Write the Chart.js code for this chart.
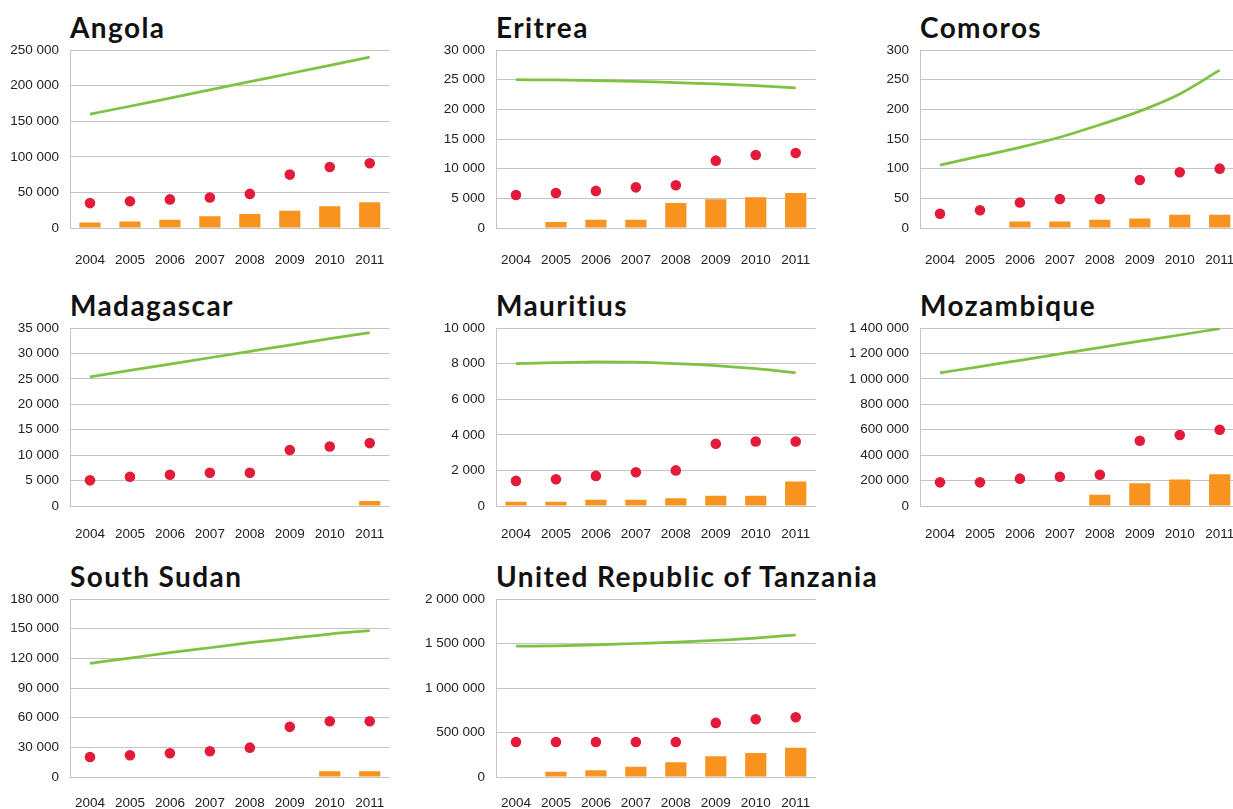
<!DOCTYPE html>
<html lang="en">
  <head>
    <meta charset="UTF-8">
    <script src="https://cdn.jsdelivr.net/npm/chart.js"></script>
    <title>Country panels 2004-2011</title>
    <style>
      html, body{margin: 0; padding: 0; background: #fff; overflow: hidden; width: 1233px; height: 809px;}
      .panel{position: absolute;}
      .ttl{position: absolute; font-family: Lato, "Open Sans", sans-serif; font-weight: 700; font-size: 28px; line-height: 28px; letter-spacing: 1.4px; color: #111; white-space: nowrap;}
    </style>
    <script>
      // years on the x axis
      const years = ['2004', '2005', '2006', '2007', '2008', '2009', '2010', '2011'];

      // green line, red dots, orange bars for each country
      const angolaLine = [160000, 171000, 182500, 194000, 205500, 217000, 228500, 240000];
      const angolaDots = [35000, 37600, 40200, 42800, 47900, 75000, 85600, 90900];
      const angolaBars = [7700, 9000, 11500, 16500, 19500, 24200, 30500, 36000];

      const eritreaLine = [25000, 24950, 24850, 24700, 24500, 24300, 24000, 23600];
      const eritreaDots = [5570, 5900, 6250, 6850, 7200, 11350, 12300, 12650];
      const eritreaBars = [null, 1000, 1370, 1370, 4230, 4830, 5170, 5900];

      const comorosLine = [106, 121, 136, 153, 174, 197, 226, 266];
      const comorosDots = [24, 30, 43, 49, 49, 81, 94, 100];
      const comorosBars = [null, null, 11, 11, 14, 16, 22.5, 22.5];

      const madagascarLine = [25400, 26650, 27900, 29150, 30400, 31650, 32900, 34100];
      const madagascarDots = [5040, 5760, 6150, 6540, 6540, 11000, 11700, 12370];
      const madagascarBars = [null, null, null, null, null, null, null, 1000];

      const mauritiusLine = [8000, 8050, 8100, 8080, 8000, 7890, 7720, 7490];
      const mauritiusDots = [1410, 1500, 1690, 1900, 2000, 3500, 3620, 3620];
      const mauritiusBars = [240, 240, 345, 345, 430, 570, 570, 1380];

      const mozambiqueLine = [1047000, 1097000, 1146000, 1196000, 1246000, 1296000, 1345000, 1395000];
      const mozambiqueDots = [186000, 186000, 215000, 230000, 246000, 513000, 558000, 600000];
      const mozambiqueBars = [null, null, null, null, 89000, 178000, 209000, 249000];

      const southSudanLine = [114900, 120300, 125700, 130700, 135800, 140200, 144600, 148000];
      const southSudanDots = [20300, 22000, 24000, 26000, 29700, 50700, 56400, 56400];
      const southSudanBars = [null, null, null, null, null, null, 5700, 5700];

      const tanzaniaLine = [1470000, 1474000, 1485000, 1500000, 1515000, 1534000, 1560000, 1598000];
      const tanzaniaDots = [394000, 394000, 394000, 394000, 394000, 608000, 649000, 671000];
      const tanzaniaBars = [null, 60000, 75000, 116000, 165000, 232000, 270000, 330000];

      // y axis ranges
      const yMax  = [250000, 30000, 300, 35000, 10000, 1400000, 180000, 2000000];
      const yStep = [50000, 5000, 50, 5000, 2000, 200000, 30000, 500000];

      const names = ['Angola', 'Eritrea', 'Comoros', 'Madagascar', 'Mauritius', 'Mozambique', 'South Sudan', 'United Republic of Tanzania'];
      const lines = [angolaLine, eritreaLine, comorosLine, madagascarLine, mauritiusLine, mozambiqueLine, southSudanLine, tanzaniaLine];
      const dots  = [angolaDots, eritreaDots, comorosDots, madagascarDots, mauritiusDots, mozambiqueDots, southSudanDots, tanzaniaDots];
      const bars  = [angolaBars, eritreaBars, comorosBars, madagascarBars, mauritiusBars, mozambiqueBars, southSudanBars, tanzaniaBars];

      const GREEN = '#7dc243';
      const RED = '#e31b3b';
      const ORANGE = '#f7931e';
      const GRID = '#c4c4c4';
      const TICK_FONT = "'Liberation Sans', Arial, sans-serif";

      // plot area corners
      const colX = [70, 496, 920];
      const rowY = [50, 328, 599];
      const rowLabelGap = [24, 20, 18]; // x labels sit a bit closer on lower rows
      const PLOT_W = 321, PLOT_H = 178, AXIS_W = 80, PAD_TOP = 12, AXIS_H = 40;

      function fmt(v){
        return String(v).replace(/\B(?=(\d{3})+(?!\d))/g, ' ');
      }

      window.addEventListener('load', function(){
        names.forEach(function(name, i){
          const row = Math.floor(i / 3);
          const px = colX[i % 3], py = rowY[row];

          // title
          const t = document.createElement('div');
          t.className = 'ttl';
          t.textContent = name;
          t.style.left = px + 'px';
          t.style.top = (py - 37) + 'px';
          document.body.appendChild(t);

          // canvas
          const c = document.createElement('canvas');
          c.className = 'panel';
          c.width = AXIS_W + PLOT_W + 4;
          c.height = PAD_TOP + PLOT_H + AXIS_H;
          c.style.left = (px - AXIS_W) + 'px';
          c.style.top = (py - PAD_TOP) + 'px';
          document.body.appendChild(c);

          new Chart(c, {
            type: 'bar',
            data: {
              labels: years,
              datasets: [
                { type: 'line', label: 'dots', data: dots[i], showLine: false,
                  pointRadius: 5.3, pointBackgroundColor: RED, pointBorderWidth: 0 },
                { type: 'line', label: 'line', data: lines[i], borderColor: GREEN, borderWidth: 2.75,
                  pointRadius: 0, cubicInterpolationMode: 'monotone', fill: false },
                { type: 'bar', label: 'bars', data: bars[i], backgroundColor: ORANGE,
                  barPercentage: 0.53, categoryPercentage: 1 }
              ]
            },
            options: {
              responsive: false,
              animation: false,
              events: [],
              layout: { padding: { top: PAD_TOP, right: 4, left: 0, bottom: 0 } },
              plugins: { legend: { display: false }, tooltip: { enabled: false } },
              scales: {
                x: {
                  afterFit: function(s){ s.height = AXIS_H; s.paddingLeft = 0; s.paddingRight = 0; },
                  grid: { display: false, drawTicks: false },
                  border: { display: true, color: GRID, width: 1 },
                  ticks: { padding: rowLabelGap[row], color: '#222', maxRotation: 0, autoSkip: false,
                           font: { family: TICK_FONT, size: 13.5 } }
                },
                y: {
                  min: 0, max: yMax[i],
                  afterFit: function(s){ s.width = AXIS_W; s.paddingTop = 0; s.paddingBottom = 0; },
                  grid: { color: GRID, drawTicks: false },
                  border: { display: true, color: GRID, width: 1 },
                  ticks: { stepSize: yStep[i], padding: 11, color: '#222',
                           font: { family: TICK_FONT, size: 13.5 },
                           callback: function(v){ return fmt(v); } }
                }
              }
            }
          });
        });
      });
    </script>
  </head>
  <body>
  </body>
</html>
